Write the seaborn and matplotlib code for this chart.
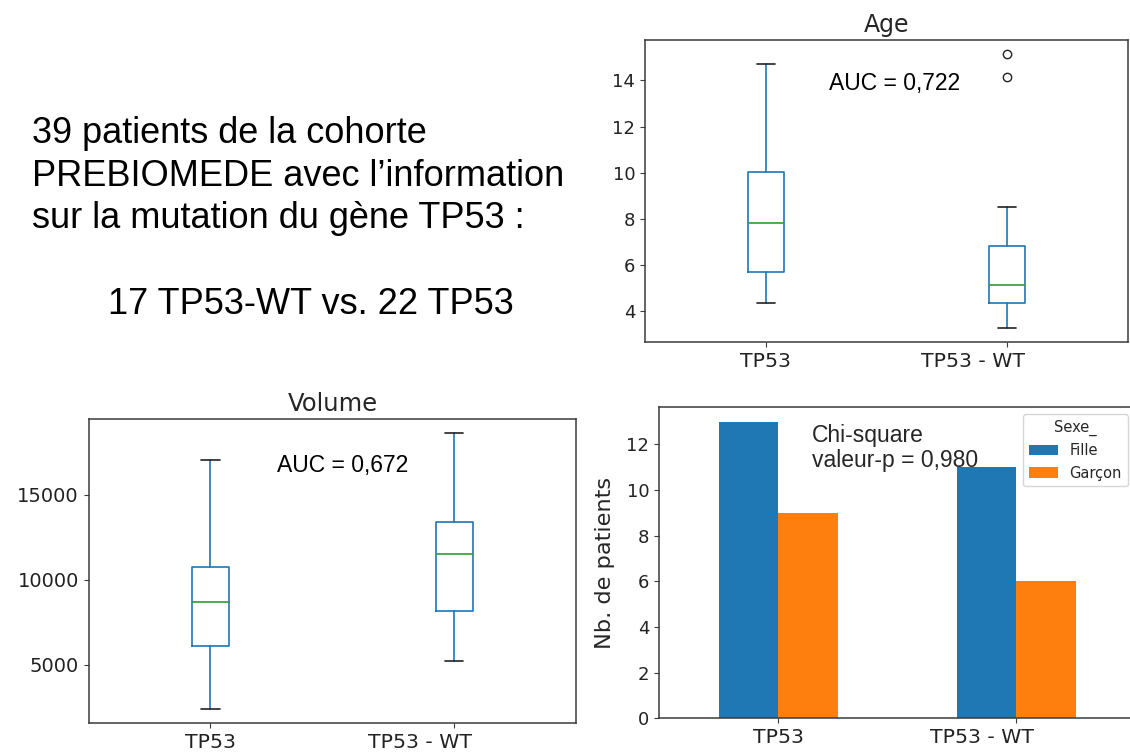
import numpy as np
import pandas as pd
import matplotlib
matplotlib.use("Agg")
import matplotlib.pyplot as plt
import matplotlib.transforms as mtransforms
import seaborn as sns

# ---------------- data ----------------
groups = ["TP53", "TP53 - WT"]

# Age (box statistics)
age_low = [4.36, 3.25]
age_q1 = [5.69, 4.33]
age_med = [7.81, 5.13]
age_q3 = [10.05, 6.82]
age_high = [14.70, 8.53]
age_outliers = [[], [14.17, 15.16]]
age_auc = "AUC = 0,722"

# Volume (box statistics)
vol_low = [2353, 5196]
vol_q1 = [6078, 8176]
vol_med = [8686, 11510]
vol_q3 = [10745, 13373]
vol_high = [17059, 18629]
vol_outliers = [[], []]
vol_auc = "AUC = 0,672"

# Sex counts
sexes = ["Fille", "Garçon"]
fille_counts = [13, 11]
garcon_counts = [9, 6]
chi_lines = ["Chi-square", "valeur-p = 0,980"]

intro_lines = ["39 patients de la cohorte",
               "PREBIOMEDE avec l\u2019information",
               "sur la mutation du gène TP53 :"]
intro_summary = "17 TP53-WT vs. 22 TP53"

# ---------------- style ----------------
sns.set_style("ticks")
plt.rcParams["font.family"] = ["DejaVu Sans"]
plt.rcParams["axes.edgecolor"] = "#3a3a3a"
plt.rcParams["axes.linewidth"] = 1.1
plt.rcParams["xtick.color"] = "#3a3a3a"
plt.rcParams["ytick.color"] = "#3a3a3a"
plt.rcParams["xtick.labelcolor"] = "#222222"
plt.rcParams["ytick.labelcolor"] = "#222222"
plt.rcParams["xtick.major.size"] = 3.5
plt.rcParams["ytick.major.size"] = 3.5

BLUE = "#1f77b4"
ORANGE = "#ff7f0e"
GREEN = "#2ca02c"
ARIAL = ["Liberation Sans", "DejaVu Sans"]

W, H = 1130, 754
fig = plt.figure(figsize=(W / 100, H / 100), dpi=100)


def px_axes(left, top, right, bottom):
    return fig.add_axes([left / W, 1 - bottom / H, (right - left) / W, (bottom - top) / H])


def draw_box(ax, lows, q1s, meds, q3s, highs, fliers):
    stats = []
    for lo, a, m, b, hi, fl in zip(lows, q1s, meds, q3s, highs, fliers):
        stats.append(dict(whislo=lo, q1=a, med=m, q3=b, whishi=hi, fliers=fl))
    ax.bxp(stats, positions=[1, 2], widths=0.15, showfliers=True,
           boxprops=dict(color=BLUE, linewidth=1.2),
           whiskerprops=dict(color=BLUE, linewidth=1.2),
           capprops=dict(color="#222222", linewidth=1.2),
           medianprops=dict(color=GREEN, linewidth=1.2),
           flierprops=dict(marker="o", markerfacecolor="none",
                           markeredgecolor="#222222", markersize=6,
                           markeredgewidth=1.0))
    ax.set_xlim(0.5, 2.5)
    ax.set_xticks([1, 2])
    ax.set_xticklabels(groups, fontsize=14.7)


# ---------------- Age ----------------
ax_age = px_axes(645, 40, 1128, 342)
draw_box(ax_age, age_low, age_q1, age_med, age_q3, age_high, age_outliers)
ax_age.margins(y=0.05)
ax_age.set_title("Age", fontsize=17, pad=6)
ax_age.tick_params(axis="y", labelsize=13)
ax_age.text(0.381, 0.834, age_auc, transform=ax_age.transAxes, fontsize=16.5,
            family=ARIAL, va="baseline", ha="left", color="black")

# ---------------- Volume ----------------
ax_vol = px_axes(88.5, 419.3, 576.3, 723.3)
draw_box(ax_vol, vol_low, vol_q1, vol_med, vol_q3, vol_high, vol_outliers)
ax_vol.margins(y=0.05)
ax_vol.set_title("Volume", fontsize=17.5, pad=6)
ax_vol.set_yticks([5000, 10000, 15000])
ax_vol.tick_params(axis="y", labelsize=14)
ax_vol.text(0.386, 0.828, vol_auc, transform=ax_vol.transAxes, fontsize=16.5,
            family=ARIAL, va="baseline", ha="left", color="black")

# ---------------- Sex bar chart ----------------
ax_bar = px_axes(659, 406.7, 1135, 718.3)
df = pd.DataFrame({
    "groupe": groups * 2,
    "Sexe_": [sexes[0]] * len(groups) + [sexes[1]] * len(groups),
    "n": fille_counts + garcon_counts,
})
sns.barplot(data=df, x="groupe", y="n", hue="Sexe_", hue_order=sexes,
            palette=[BLUE, ORANGE], width=0.5, gap=0, saturation=1,
            errorbar=None, linewidth=0, ax=ax_bar)
ax_bar.set_xlim(-0.5, 1.5)
ax_bar.set_ylim(0, 13.65)
ax_bar.set_xlabel("")
ax_bar.set_ylabel("Nb. de patients", fontsize=16.2, labelpad=8)
ax_bar.set_xticks([0, 1])
ax_bar.set_xticklabels(groups, fontsize=14.7)
ax_bar.tick_params(axis="y", labelsize=13)
leg = ax_bar.legend(title="Sexe_", loc="upper right", fontsize=10.5,
                    title_fontsize=10.5, frameon=True, fancybox=True,
                    framealpha=0.8, edgecolor="#cccccc", handlelength=2.0,
                    borderaxespad=0.5)
ax_bar.text(0.3214, 0.8867, chi_lines[0], transform=ax_bar.transAxes,
            fontsize=16.5, family=ARIAL, va="baseline", ha="left")
ax_bar.text(0.3214, 0.8065, chi_lines[1], transform=ax_bar.transAxes,
            fontsize=16.5, family=ARIAL, va="baseline", ha="left")

# shift the second category label slightly left, as in the original
shift = mtransforms.ScaledTranslation(-34 / 100, 0, fig.dpi_scale_trans)
for ax in (ax_age, ax_vol, ax_bar):
    lab = ax.get_xticklabels()[1]
    lab.set_transform(lab.get_transform() + shift)

# ---------------- intro text ----------------
for txt, y in zip(intro_lines, [143, 185.5, 228]):
    fig.text(31.7 / W, 1 - y / H, txt, fontsize=26, family=ARIAL,
             va="baseline", ha="left", color="black")
fig.text(108 / W, 1 - 314 / H, intro_summary, fontsize=26, family=ARIAL,
         va="baseline", ha="left", color="black")

fig.savefig("out.png", dpi=100)
